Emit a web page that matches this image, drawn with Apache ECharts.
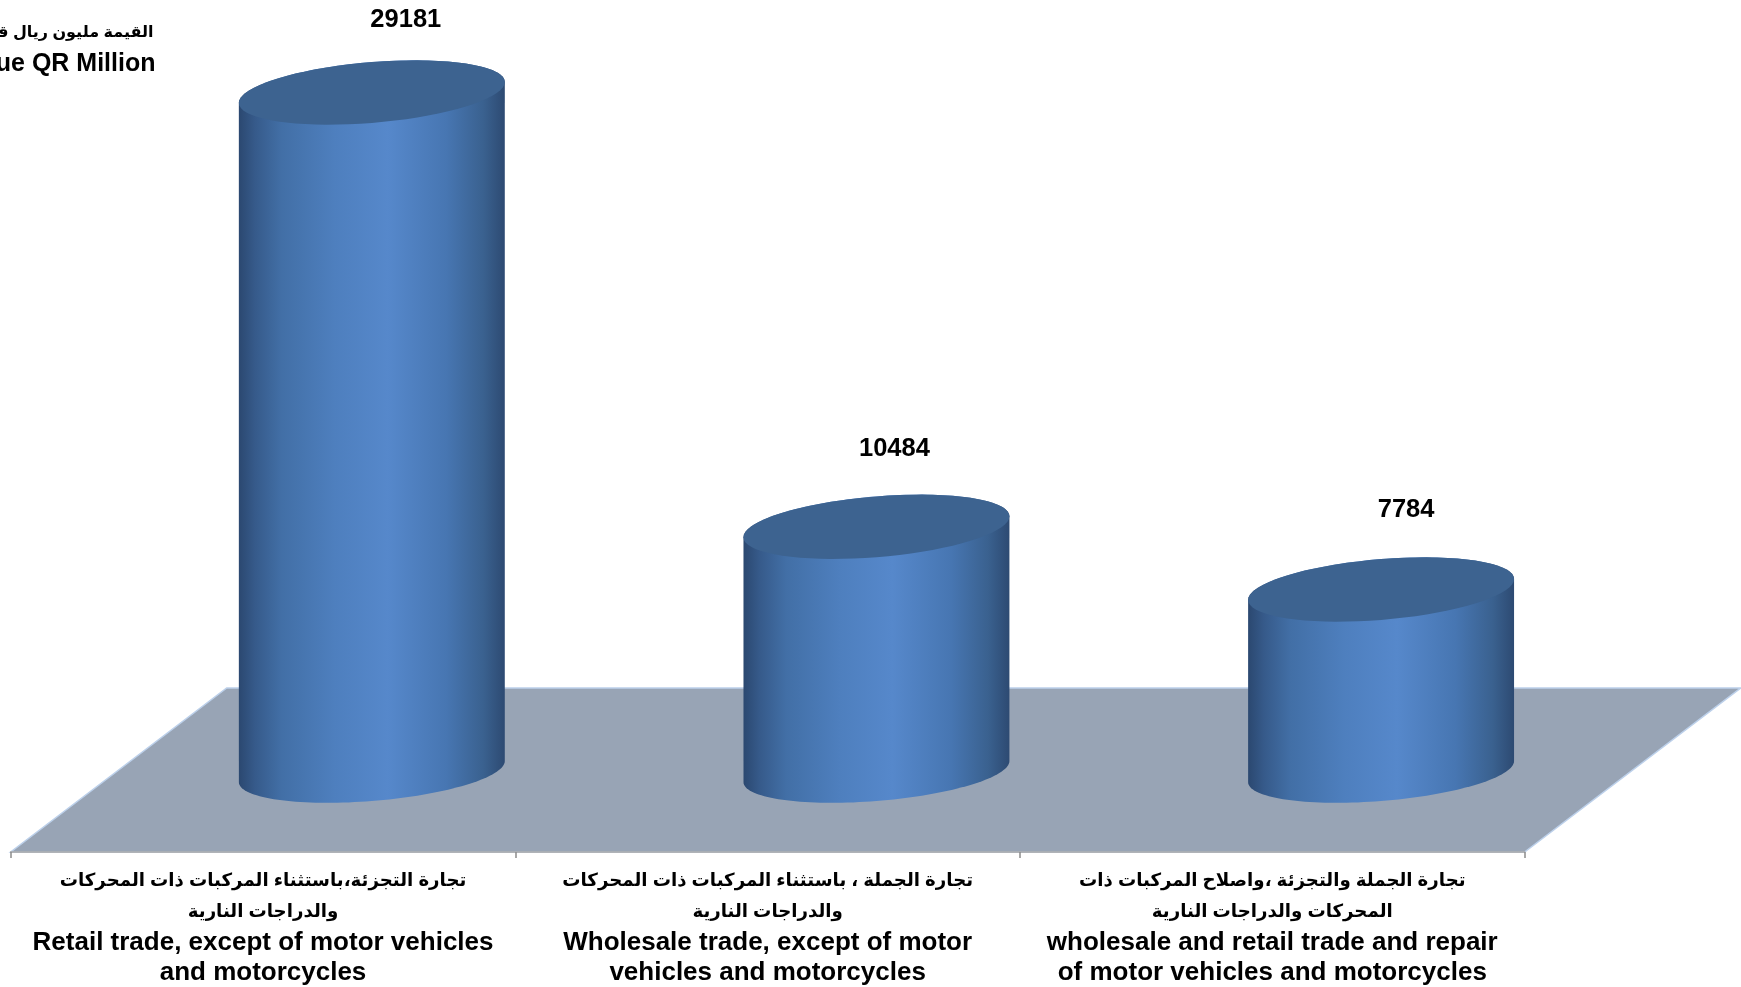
<!DOCTYPE html>
<html><head><meta charset="utf-8">
<style>html,body{margin:0;padding:0;background:#fff;overflow:hidden}#c{width:1741px;height:987px}</style>
<script src="https://cdn.jsdelivr.net/npm/echarts@6/dist/echarts.min.js"></script>
</head><body><div id="c"></div>
<script>
const categoriesAr = [
  ["تجارة التجزئة،باستثناء المركبات ذات المحركات", "والدراجات النارية"],
  ["تجارة الجملة ، باستثناء المركبات ذات المحركات", "والدراجات النارية"],
  ["تجارة الجملة والتجزئة ،واصلاح المركبات ذات", "المحركات والدراجات النارية"]
];
const categoriesEn = [
  ["Retail trade, except of motor vehicles", "and motorcycles"],
  ["Wholesale trade, except of motor", "vehicles and motorcycles"],
  ["wholesale and retail trade and repair", "of motor vehicles and motorcycles"]
];
const values = [29181, 10484, 7784];
const axisTitleAr = "القيمة مليون ريال قطري";
const axisTitleEn = "Value QR Million";

const DEPTH = {x: 216, y: 164};           // floor depth vector (front edge -> back edge)
const LABEL_SHIFT = [{x: 34, y: -72.5}, {x: 18, y: -77.6}, {x: 25, y: -79.4}];

function renderFloor(params, api) {
  const g = params.coordSys;
  const x0 = g.x, x1 = g.x + g.width, y0 = g.y + g.height;
  return {
    type: 'polygon', silent: true,
    shape: {points: [[x0, y0], [x1, y0], [x1 + DEPTH.x, y0 - DEPTH.y], [x0 + DEPTH.x, y0 - DEPTH.y]]},
    style: {fill: '#98a4b5', stroke: '#bcd0ea', lineWidth: 1.5}
  };
}

function renderCylinder(params, api) {
  const base = api.coord([api.value(0), 0]);
  const top = api.coord([api.value(0), api.value(1)]);
  const band = api.size([1, 0])[0];
  const a = band * 0.2635;                // half width of the cylinder
  const k = -10.5;                        // ellipse shear
  const cx = base[0] + DEPTH.x / 2 + 0.8;
  const yB = base[1] - DEPTH.y / 2 + 1.5;
  const yT = top[1] - DEPTH.y / 2 + 0.3;
  const ell = (cy, b, from, to) => {
    const out = [];
    for (let i = 0; i <= 72; i++) {
      const t = from + (to - from) * i / 72;
      out.push([cx + a * Math.cos(t), cy + b * Math.sin(t) + k * Math.cos(t)]);
    }
    return out;
  };
  const side = ell(yB, 29.5, 0, Math.PI).concat(ell(yT, 30.4, Math.PI, Math.PI * 2));
  const shift = LABEL_SHIFT[params.dataIndex];
  return {
    type: 'group',
    children: [
      {type: 'polygon', shape: {points: side}, style: {
        fill: new echarts.graphic.LinearGradient(0, 0, 1, 0, [
          {offset: 0, color: '#2b4870'},
          {offset: 0.06, color: '#365a8a'},
          {offset: 0.16, color: '#426fa6'},
          {offset: 0.36, color: '#4e7fbe'},
          {offset: 0.56, color: '#5688cb'},
          {offset: 0.78, color: '#4776b2'},
          {offset: 0.92, color: '#3a618f'},
          {offset: 1, color: '#2d4a72'}
        ])}},
      {type: 'polygon', shape: {points: ell(yT, 30.4, 0, Math.PI * 2)}, style: {fill: '#3d6390'}},
      {type: 'text', style: {
        text: String(api.value(1)), x: cx + shift.x, y: yT + shift.y,
        align: 'center', verticalAlign: 'middle',
        font: 'bold 25.5px "Liberation Sans", Arial, sans-serif', fill: '#000'}}
    ]
  };
}

const chart = echarts.init(document.getElementById('c'), null, {renderer: 'canvas'});
chart.setOption({
  animation: false,
  backgroundColor: '#fff',
  title: [
    {text: axisTitleAr, left: 148.5, top: 20, textAlign: 'right',
     textStyle: {fontFamily: '"Liberation Sans", "DejaVu Sans", sans-serif', fontWeight: 'bold', fontSize: 16, color: '#000'}},
    {text: axisTitleEn, left: 150.5, top: 47, textAlign: 'right',
     textStyle: {fontFamily: '"Liberation Sans", Arial, sans-serif', fontWeight: 'bold', fontSize: 25, color: '#000'}}
  ],
  grid: {left: 10.7, right: 216.4, top: 0, bottom: 135, containLabel: false},
  xAxis: {
    type: 'category', z: 5,
    data: categoriesEn.map(l => l.join(' ')),
    boundaryGap: true,
    axisLine: {show: true, lineStyle: {color: '#a6a6a6', width: 1.5}},
    axisTick: {show: true, alignWithLabel: false, length: 6, lineStyle: {color: '#8c8c8c', width: 1.5}},
    axisLabel: {
      interval: 0, margin: 13, align: 'center', verticalAlign: 'top',
      formatter: (v, i) => [
        '{ar|' + categoriesAr[i][0] + '}', '{ar|' + categoriesAr[i][1] + '}',
        '{en|' + categoriesEn[i][0] + '}', '{en|' + categoriesEn[i][1] + '}'
      ].join('\n'),
      rich: {
        ar: {fontFamily: '"Liberation Sans", "DejaVu Sans", sans-serif', fontWeight: 'bold', fontSize: 18.2, lineHeight: 31.5, color: '#000'},
        en: {fontFamily: '"Liberation Sans", Arial, sans-serif', fontWeight: 'bold', fontSize: 26, lineHeight: 30, color: '#000'}
      }
    }
  },
  yAxis: {
    type: 'value', min: 0, max: 36680,
    axisLine: {show: false}, axisTick: {show: false}, axisLabel: {show: false}, splitLine: {show: false}
  },
  series: [
    {type: 'custom', z: 1, silent: true, clip: false, coordinateSystem: 'cartesian2d',
     data: [[0, 0]], renderItem: renderFloor},
    {type: 'custom', z: 2, silent: true, clip: false, coordinateSystem: 'cartesian2d',
     encode: {x: 0, y: 1},
     data: values.map((v, i) => [i, v]), renderItem: renderCylinder}
  ]
});
</script></body></html>
